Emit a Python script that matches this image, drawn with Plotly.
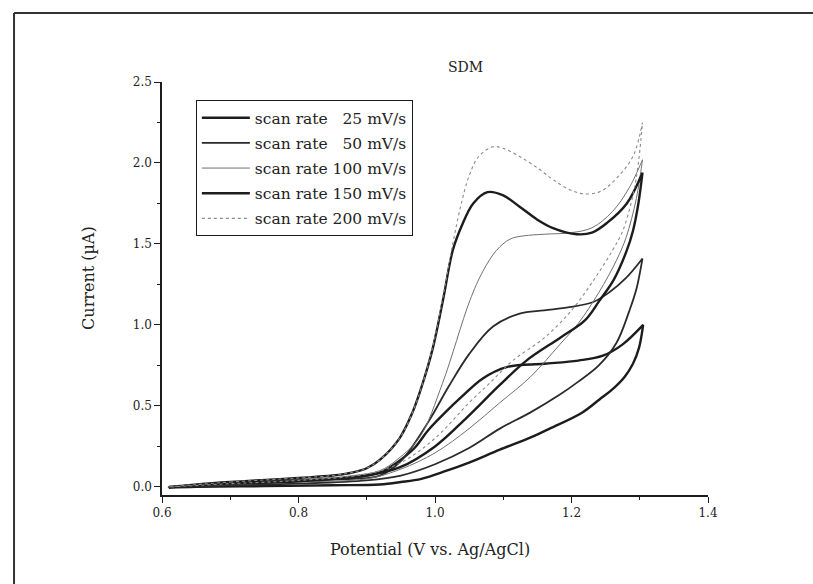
import plotly.graph_objects as go

# ---------------- data ----------------
scan_rates = ["25", "50", "100", "150", "200"]

v_fwd_25 = [0.61, 0.70, 0.80, 0.88, 0.92, 0.944, 0.97, 0.99, 1.015, 1.04, 1.07, 1.105, 1.16, 1.21, 1.246, 1.275, 1.305]
i_fwd_25 = [0.00, 0.02, 0.04, 0.06, 0.09, 0.15, 0.24, 0.35, 0.46, 0.56, 0.67, 0.74, 0.76, 0.78, 0.81, 0.88, 1.00]
v_rev_25 = [1.305, 1.299, 1.29, 1.278, 1.262, 1.241, 1.216, 1.168, 1.143, 1.095, 1.05, 1.017, 0.98, 0.95, 0.919, 0.85, 0.75, 0.65, 0.61]
i_rev_25 = [1.00, 0.86, 0.76, 0.68, 0.61, 0.54, 0.46, 0.36, 0.31, 0.23, 0.15, 0.10, 0.05, 0.03, 0.015, 0.01, 0.005, 0.0, -0.005]

v_fwd_50 = [0.61, 0.70, 0.80, 0.88, 0.919, 0.95, 0.99, 1.02, 1.05, 1.085, 1.124, 1.16, 1.197, 1.231, 1.255, 1.28, 1.304]
i_fwd_50 = [0.00, 0.02, 0.04, 0.05, 0.07, 0.16, 0.40, 0.62, 0.82, 0.99, 1.07, 1.09, 1.11, 1.14, 1.20, 1.29, 1.41]
v_rev_50 = [1.304, 1.295, 1.285, 1.266, 1.24, 1.21, 1.183, 1.14, 1.095, 1.05, 1.0, 0.95, 0.9, 0.8, 0.7, 0.61]
i_rev_50 = [1.41, 1.22, 1.09, 0.89, 0.75, 0.65, 0.57, 0.46, 0.36, 0.24, 0.14, 0.07, 0.04, 0.02, 0.01, 0.0]

v_fwd_100 = [0.61, 0.70, 0.80, 0.88, 0.919, 0.945, 0.978, 1.011, 1.051, 1.07, 1.09, 1.11, 1.13, 1.16, 1.20, 1.23, 1.26, 1.285, 1.304]
i_fwd_100 = [0.00, 0.02, 0.04, 0.07, 0.10, 0.17, 0.31, 0.64, 1.15, 1.33, 1.46, 1.53, 1.55, 1.56, 1.57, 1.60, 1.70, 1.85, 2.02]
v_rev_100 = [1.304, 1.295, 1.28, 1.266, 1.24, 1.21, 1.183, 1.14, 1.095, 1.05, 1.0, 0.95, 0.9, 0.8, 0.7, 0.61]
i_rev_100 = [2.02, 1.78, 1.54, 1.40, 1.20, 1.01, 0.88, 0.68, 0.52, 0.36, 0.21, 0.11, 0.05, 0.03, 0.015, 0.0]

v_fwd_150 = [0.61, 0.70, 0.80, 0.85, 0.88, 0.90, 0.92, 0.948, 0.967, 0.982, 0.997, 1.012, 1.026, 1.04, 1.056, 1.077, 1.10, 1.124, 1.15, 1.172, 1.208, 1.23, 1.252, 1.281, 1.304]
i_fwd_150 = [0.00, 0.03, 0.055, 0.07, 0.09, 0.115, 0.17, 0.30, 0.46, 0.64, 0.86, 1.16, 1.46, 1.62, 1.75, 1.82, 1.80, 1.73, 1.65, 1.60, 1.56, 1.57, 1.63, 1.75, 1.94]
v_rev_150 = [1.304, 1.298, 1.29, 1.281, 1.262, 1.241, 1.22, 1.183, 1.134, 1.095, 1.047, 1.0, 0.948, 0.9, 0.8, 0.7, 0.61]
i_rev_150 = [1.94, 1.75, 1.58, 1.46, 1.28, 1.15, 1.03, 0.92, 0.78, 0.63, 0.43, 0.25, 0.12, 0.07, 0.035, 0.02, 0.0]

v_fwd_200 = [0.61, 0.70, 0.80, 0.85, 0.88, 0.90, 0.92, 0.948, 0.967, 0.982, 0.997, 1.012, 1.026, 1.038, 1.05, 1.064, 1.085, 1.10, 1.124, 1.15, 1.172, 1.195, 1.216, 1.24, 1.26, 1.29, 1.304]
i_fwd_200 = [0.00, 0.03, 0.055, 0.07, 0.09, 0.115, 0.17, 0.30, 0.46, 0.64, 0.87, 1.18, 1.50, 1.74, 1.92, 2.04, 2.10, 2.09, 2.04, 1.97, 1.90, 1.84, 1.81, 1.82, 1.88, 2.04, 2.25]
v_rev_200 = [1.304, 1.298, 1.29, 1.275, 1.26, 1.233, 1.20, 1.16, 1.114, 1.08, 1.05, 1.0, 0.95, 0.9, 0.8, 0.7, 0.61]
i_rev_200 = [2.25, 2.0, 1.80, 1.58, 1.46, 1.28, 1.09, 0.92, 0.78, 0.64, 0.52, 0.30, 0.15, 0.08, 0.04, 0.02, 0.0]

x_ticks = [0.6, 0.8, 1.0, 1.2, 1.4]
y_ticks = [0.0, 0.5, 1.0, 1.5, 2.0, 2.5]

# ---------------- styles ----------------
FONT = "DejaVu Serif"
BLACK = "#1c1c1c"
styles = {
    "25": dict(color=BLACK, width=2.4, dash="solid"),
    "50": dict(color="#2a2a2a", width=1.8, dash="solid"),
    "100": dict(color="#707070", width=1.0, dash="solid"),
    "150": dict(color=BLACK, width=2.4, dash="solid"),
    "200": dict(color="#8a8a8a", width=1.1, dash="dot"),
}
curves = {
    "25": (v_fwd_25, i_fwd_25, v_rev_25, i_rev_25),
    "50": (v_fwd_50, i_fwd_50, v_rev_50, i_rev_50),
    "100": (v_fwd_100, i_fwd_100, v_rev_100, i_rev_100),
    "150": (v_fwd_150, i_fwd_150, v_rev_150, i_rev_150),
    "200": (v_fwd_200, i_fwd_200, v_rev_200, i_rev_200),
}

fig = go.Figure()
for sr in scan_rates:
    vf, i_f, vr, i_r = curves[sr]
    label = "scan rate " + ("\u2007" if len(sr) == 2 else "") + sr + " mV/s"
    fig.add_trace(go.Scatter(
        x=list(vf) + list(vr), y=list(i_f) + list(i_r),
        mode="lines", name=label, legendgroup=sr,
        line=dict(shape="spline", smoothing=1.0, **styles[sr]),
    ))

axis_common = dict(
    showline=True, linecolor=BLACK, linewidth=1.5, mirror=False,
    showgrid=False, zeroline=False,
    ticks="outside", ticklen=6, tickwidth=1.2, tickcolor=BLACK,
    tickfont=dict(family=FONT, size=12, color="#222"),
)

fig.update_layout(
    width=813, height=584,
    margin=dict(l=162, r=105, t=82, b=89),
    paper_bgcolor="white", plot_bgcolor="white",
    font=dict(family=FONT, color="#222"),
    showlegend=True,
    legend=dict(
        x=0.062, y=0.956, xanchor="left", yanchor="top",
        bgcolor="white", bordercolor=BLACK, borderwidth=1,
        font=dict(family=FONT, size=15.5, color="#222"),
        itemwidth=48, tracegroupgap=2,
    ),
    xaxis=dict(range=[0.6, 1.4], tickvals=x_ticks, ticktext=[f"{v:.1f}" for v in x_ticks],
               minor=dict(dtick=0.1, tick0=0.6, ticks="outside", ticklen=3, tickcolor=BLACK),
               **axis_common),
    yaxis=dict(range=[-0.05, 2.5], tickvals=y_ticks, ticktext=[f"{v:.1f}" for v in y_ticks],
               minor=dict(dtick=0.25, tick0=0, ticks="outside", ticklen=3, tickcolor=BLACK),
               **axis_common),
)

# titles as annotations
fig.add_annotation(text="SDM", xref="paper", yref="paper", x=0.555, y=1.036,
                   xanchor="center", yanchor="middle", showarrow=False,
                   font=dict(family=FONT, size=14, color="#222"))
fig.add_annotation(text="Potential (V vs. Ag/AgCl)", xref="paper", yref="paper",
                   x=0.491, y=-0.131, xanchor="center", yanchor="middle", showarrow=False,
                   font=dict(family=FONT, size=16, color="#222"))
fig.add_annotation(text="Current (\u00b5A)", xref="paper", yref="paper",
                   x=-0.136, y=0.525, xanchor="center", yanchor="middle", textangle=-90,
                   showarrow=False, font=dict(family=FONT, size=16, color="#222"))

# scanned page frame (top and left edges)
fig.add_shape(type="line", xref="paper", yref="paper", x0=-0.271, y0=1.167, x1=1.2, y1=1.167,
              line=dict(color="#333", width=2))
fig.add_shape(type="line", xref="paper", yref="paper", x0=-0.271, y0=1.167, x1=-0.271, y1=-0.22,
              line=dict(color="#333", width=2))

fig.write_html("out.html")
